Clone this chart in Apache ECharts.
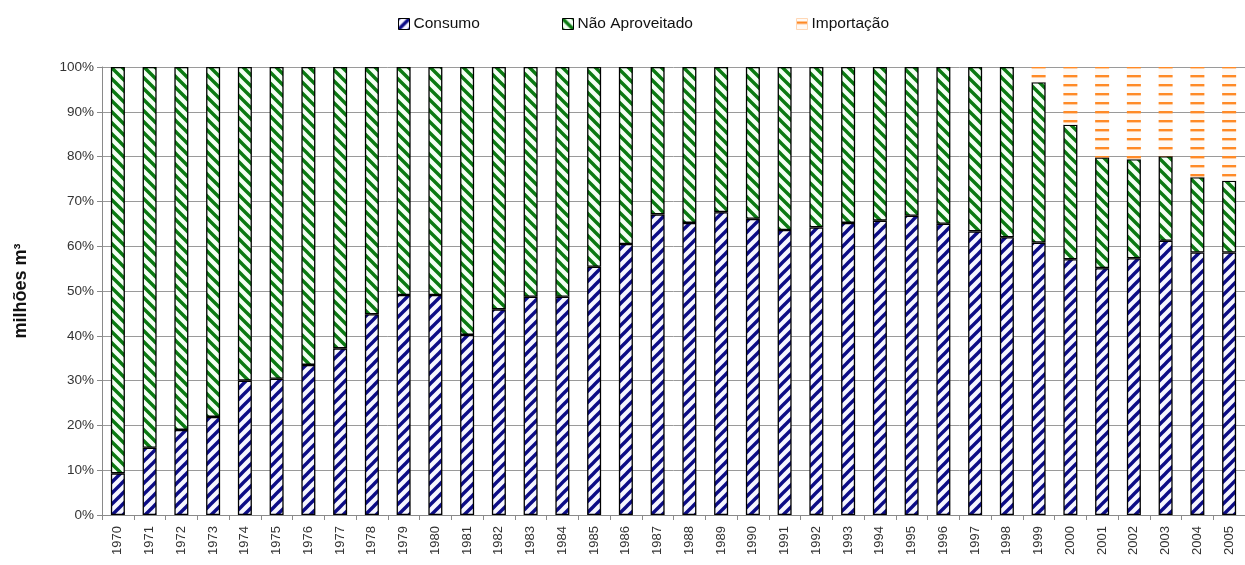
<!DOCTYPE html>
<html>
<head>
<meta charset="utf-8">
<script src="https://cdn.jsdelivr.net/npm/echarts@6/dist/echarts.min.js"></script>
<style>
  html, body { margin: 0; padding: 0; background: #fff; }
  #chart { width: 1245px; height: 565px; }
</style>
</head>
<body>
<div id="chart"></div>
<script>
// Anos
const years = ['1970','1971','1972','1973','1974','1975','1976','1977','1978','1979',
  '1980','1981','1982','1983','1984','1985','1986','1987','1988','1989',
  '1990','1991','1992','1993','1994','1995','1996','1997','1998','1999',
  '2000','2001','2002','2003','2004','2005'];

// Participação de cada parcela (%)
const consumo = [9.3, 15.0, 19.0, 21.9, 30.0, 30.4, 33.5, 37.2, 44.8, 49.1,
  49.1, 40.2, 45.9, 48.7, 48.7, 55.4, 60.5, 67.1, 65.2, 67.6,
  66.1, 63.6, 64.2, 65.2, 65.7, 66.8, 65.0, 63.3, 62.0, 60.8,
  57.1, 55.1, 57.3, 61.2, 58.6, 58.6];

const naoAproveitado = [90.7, 85.0, 81.0, 78.1, 70.0, 69.6, 66.5, 62.8, 55.2, 50.9,
  50.9, 59.8, 54.1, 51.3, 51.3, 44.6, 39.5, 32.9, 34.8, 32.4,
  33.9, 36.4, 35.8, 34.8, 34.3, 33.2, 35.0, 36.7, 38.0, 35.8,
  30.0, 24.7, 22.1, 18.9, 16.8, 16.0];

const importacao = [0, 0, 0, 0, 0, 0, 0, 0, 0, 0,
  0, 0, 0, 0, 0, 0, 0, 0, 0, 0,
  0, 0, 0, 0, 0, 0, 0, 0, 0, 3.4,
  12.9, 20.2, 20.6, 19.9, 24.6, 25.4];

const yTicks = [0, 10, 20, 30, 40, 50, 60, 70, 80, 90, 100];

// Hatch fills
function diagonal(color, bg, dir) {
  const T = 11;
  const c = document.createElement('canvas');
  c.width = T; c.height = T;
  const g = c.getContext('2d');
  g.fillStyle = bg; g.fillRect(0, 0, T, T);
  g.strokeStyle = color; g.lineWidth = 3.4; g.lineCap = 'square';
  for (let k = -1; k <= 2; k++) {
    g.beginPath();
    if (dir === '/') { g.moveTo(-2, k * T + 2); g.lineTo(T + 2, k * T - T - 2); }
    else { g.moveTo(-2, k * T - 2); g.lineTo(T + 2, k * T + T + 2); }
    g.stroke();
  }
  return { image: c, repeat: 'repeat' };
}
function horizontal(color, bg) {
  const c = document.createElement('canvas');
  c.width = 4; c.height = 9;
  const g = c.getContext('2d');
  g.fillStyle = bg; g.fillRect(0, 0, 4, 9);
  g.fillStyle = color; g.fillRect(0, 3, 4, 2.4);
  return { image: c, repeat: 'repeat' };
}

const blueFill = diagonal('#0c0c86', '#f6f6ff', '/');
const greenFill = diagonal('#0b7a12', '#f4fff4', '\\');
const orangeFill = horizontal('#ff8a26', '#fffaf5');

const font = 'Liberation Sans, Arial, sans-serif';
const chart = echarts.init(document.getElementById('chart'), null, { renderer: 'canvas' });

function legendAt(left, name, border) {
  return {
    left: left, top: 11, data: [name], icon: 'rect',
    itemWidth: 11, itemHeight: 11, itemGap: 0,
    itemStyle: { borderColor: border, borderWidth: 1 },
    textStyle: { fontFamily: font, fontSize: 15.5, color: '#111', padding: [0, 0, 0, -1] },
    selectedMode: false
  };
}

chart.setOption({
  animation: false,
  backgroundColor: '#ffffff',
  legend: [
    legendAt(393, 'Consumo', '#000'),
    legendAt(557, 'Não Aproveitado', '#000'),
    legendAt(791, 'Importação', '#ffd7b5')
  ],
  grid: { left: 102, top: 67, width: 1146, height: 448, containLabel: false },
  xAxis: {
    type: 'category', data: years,
    axisLine: { lineStyle: { color: '#8a8a8a', width: 1 } },
    axisTick: { show: true, length: 5, alignWithLabel: false, lineStyle: { color: '#8a8a8a' } },
    axisLabel: { rotate: 90, fontFamily: font, fontSize: 13, color: '#333', margin: 11, interval: 0 }
  },
  yAxis: {
    type: 'value', min: yTicks[0], max: yTicks[yTicks.length - 1], interval: 10,
    name: 'milhões m³', nameLocation: 'middle', nameGap: 72, nameRotate: 90,
    nameTextStyle: { fontFamily: font, fontSize: 18, fontWeight: 'bold', color: '#111' },
    axisLine: { show: true, lineStyle: { color: '#8a8a8a' } },
    axisTick: { show: true, length: 5, inside: false, lineStyle: { color: '#8a8a8a' } },
    axisLabel: { formatter: '{value}%', fontFamily: font, fontSize: 13.5, color: '#333', margin: 8 },
    splitLine: { lineStyle: { color: '#9a9a9a', width: 1 } }
  },
  series: [
    {
      name: 'Consumo', type: 'bar', stack: 'total', barWidth: 14, data: consumo,
      itemStyle: { color: blueFill, borderColor: '#000', borderWidth: 1.3 }
    },
    {
      name: 'Não Aproveitado', type: 'bar', stack: 'total', barWidth: 14, data: naoAproveitado,
      itemStyle: { color: greenFill, borderColor: '#000', borderWidth: 1.3 }
    },
    {
      name: 'Importação', type: 'bar', stack: 'total', barWidth: 14, data: importacao,
      itemStyle: { color: orangeFill, borderWidth: 0 }
    }
  ]
});
</script>
</body>
</html>
